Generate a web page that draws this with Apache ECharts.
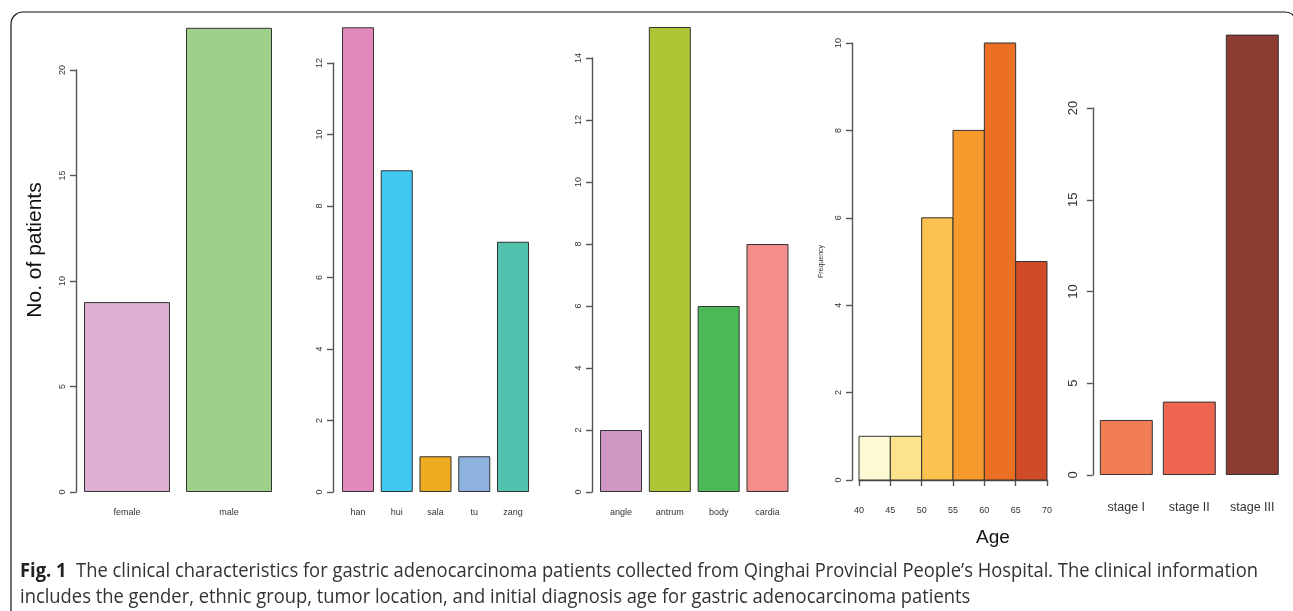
<!DOCTYPE html>
<html>
<head>
<meta charset="utf-8">
<script src="https://cdn.jsdelivr.net/npm/echarts@6/dist/echarts.min.js"></script>
<style>
html,body{margin:0;padding:0;background:#fff;}
#c{width:1293px;height:611px;}
</style>
</head>
<body>
<div id="c"></div>
<script>
// ---- data ----
var genderCats = ['female', 'male'];
var genderVals = [9, 22];
var ethnicCats = ['han', 'hui', 'sala', 'tu', 'zang'];
var ethnicVals = [13, 9, 1, 1, 7];
var locationCats = ['angle', 'antrum', 'body', 'cardia'];
var locationVals = [2, 15, 6, 8];
var ageBreaks = [40, 45, 50, 55, 60, 65, 70];
var ageFreq = [1, 1, 6, 8, 10, 5];
var stageCats = ['stage I', 'stage II', 'stage III'];
var stageVals = [3, 4, 24];

// ---- colours ----
var genderColors = ['#DFAFD2', '#9DD08A'];
var ethnicColors = ['#E288BA', '#41C8F0', '#EEAC22', '#8EB2E0', '#52C2AE'];
var locationColors = ['#CE97C4', '#ADC636', '#4CB959', '#F48E8A'];
var ageColors = ['#FDF9D3', '#FCE28C', '#FBC24F', '#F69A2D', '#EC7024', '#CF4C27'];
var stageColors = ['#F27D55', '#EE6650', '#8B3B2F'];

var F = '"Liberation Sans", Arial, sans-serif';
var FN = '"Liberation Sans Narrow", "Liberation Sans", Arial, sans-serif';
var axisLineStyle = {color: '#555', width: 1.4};

function yAx(idx, max, interval, offset, fs, margin, extra) {
  var o = {
    type: 'value', gridIndex: idx, min: 0, max: max, interval: interval, offset: offset,
    axisLine: {show: true, lineStyle: axisLineStyle},
    axisTick: {show: true, length: 6, lineStyle: axisLineStyle},
    axisLabel: {rotate: 90, fontSize: fs, color: '#333', fontFamily: F, margin: margin},
    splitLine: {show: false}
  };
  if (extra) for (var k in extra) o[k] = extra[k];
  return o;
}
function xCat(idx, cats, fs, margin, ff) {
  return {
    type: 'category', gridIndex: idx, data: cats,
    axisLine: {show: false}, axisTick: {show: false},
    axisLabel: {fontSize: fs, color: '#333', fontFamily: ff || F, margin: margin, interval: 0}
  };
}
function barSeries(idx, vals, colors, gap) {
  return {
    type: 'bar', xAxisIndex: idx, yAxisIndex: idx, clip: false,
    barCategoryGap: gap,
    data: vals.map(function (v, i) {
      return {value: v, itemStyle: {color: colors[i], borderColor: '#333', borderWidth: 1}};
    }),
    silent: true, animation: false
  };
}

var histData = ageFreq.map(function (f, i) { return [ageBreaks[i], ageBreaks[i + 1], f]; });

// caption measurement
var cap1a = 'Fig. 1';
var cap1b = '  The clinical characteristics for gastric adenocarcinoma patients collected from Qinghai Provincial People\u2019s Hospital. The clinical information';
var cap2 = 'includes the gender, ethnic group, tumor location, and initial diagnosis age for gastric adenocarcinoma patients';
var cv = document.createElement('canvas').getContext('2d');
cv.font = 'bold 20px "Open Sans"';
var wA = cv.measureText(cap1a).width;
cv.font = '20px "Open Sans"';
var wB = cv.measureText(cap1b).width;
var capScale = 1238 / (wA + wB);

var chart = echarts.init(document.getElementById('c'), null, {renderer: 'canvas'});
chart.setOption({
  animation: false,
  backgroundColor: '#fff',
  grid: [
    {left: 76, top: 70, width: 204, height: 422},
    {left: 338.6, top: 63, width: 193.8, height: 429},
    {left: 596.6, top: 58, width: 195.3, height: 434},
    {left: 859, top: 43, width: 188, height: 437},
    {left: 1094.8, top: 108, width: 189, height: 367}
  ],
  xAxis: [
    xCat(0, genderCats, 9, 16),
    xCat(1, ethnicCats, 9, 16),
    xCat(2, locationCats, 9, 16),
    {
      type: 'value', gridIndex: 3, min: 40, max: 70, interval: 5, offset: 17,
      axisLine: {show: true, lineStyle: axisLineStyle},
      axisTick: {show: true, length: 6, inside: false, lineStyle: axisLineStyle},
      axisLabel: {fontSize: 9, color: '#333', fontFamily: F, margin: 9},
      splitLine: {show: false}
    },
    xCat(4, stageCats, 12.5, 26, FN)
  ],
  yAxis: [
    yAx(0, 20, 5, 0, 9, 9),
    yAx(1, 12, 2, 5.6, 9, 9),
    yAx(2, 14, 2, 4.6, 9, 9),
    yAx(3, 10, 2, 7, 9, 9, {name: 'Frequency', nameLocation: 'middle', nameRotate: 90, nameGap: 27,
      nameTextStyle: {fontSize: 7, color: '#333', fontFamily: F}}),
    yAx(4, 20, 5, 2, 13, 13)
  ],
  series: [
    barSeries(0, genderVals, genderColors, '15.7%'),
    barSeries(1, ethnicVals, ethnicColors, '17.4%'),
    barSeries(2, locationVals, locationColors, '14%'),
    {
      type: 'custom', xAxisIndex: 3, yAxisIndex: 3, silent: true, clip: false,
      data: histData,
      renderItem: function (params, api) {
        var p0 = api.coord([api.value(0), api.value(2)]);
        var p1 = api.coord([api.value(1), 0]);
        return {
          type: 'rect',
          shape: {x: p0[0], y: p0[1], width: p1[0] - p0[0], height: p1[1] - p0[1]},
          style: {fill: ageColors[params.dataIndex], stroke: '#333', lineWidth: 1}
        };
      }
    },
    barSeries(4, stageVals, stageColors, '15.9%')
  ],
  graphic: [
    {type: 'rect', shape: {x: 11, y: 12, width: 1286, height: 700, r: 12}, silent: true,
      style: {fill: 'none', stroke: '#111', lineWidth: 1.2}, z: -1},
    {type: 'text', x: 35, y: 250, rotation: Math.PI / 2, silent: true,
      style: {text: 'No. of patients', fontSize: 21, fontFamily: F, fill: '#111', align: 'center', verticalAlign: 'middle'}},
    {type: 'text', x: 993, y: 538, silent: true,
      style: {text: 'Age', fontSize: 19, fontFamily: F, fill: '#111', align: 'center', verticalAlign: 'middle'}},
    {type: 'text', x: 20, y: 571, scaleX: capScale, silent: true,
      style: {
        text: '{b|' + cap1a + '}{n|' + cap1b + '}',
        verticalAlign: 'middle',
        rich: {
          b: {fontSize: 20, fontWeight: 'bold', fontFamily: '"Open Sans"', fill: '#222'},
          n: {fontSize: 20, fontFamily: '"Open Sans"', fill: '#333'}
        }
      }},
    {type: 'text', x: 20, y: 597, scaleX: capScale, silent: true,
      style: {text: cap2, fontSize: 20, fontFamily: '"Open Sans"', fill: '#333', verticalAlign: 'middle'}}
  ]
});
</script>
</body>
</html>
